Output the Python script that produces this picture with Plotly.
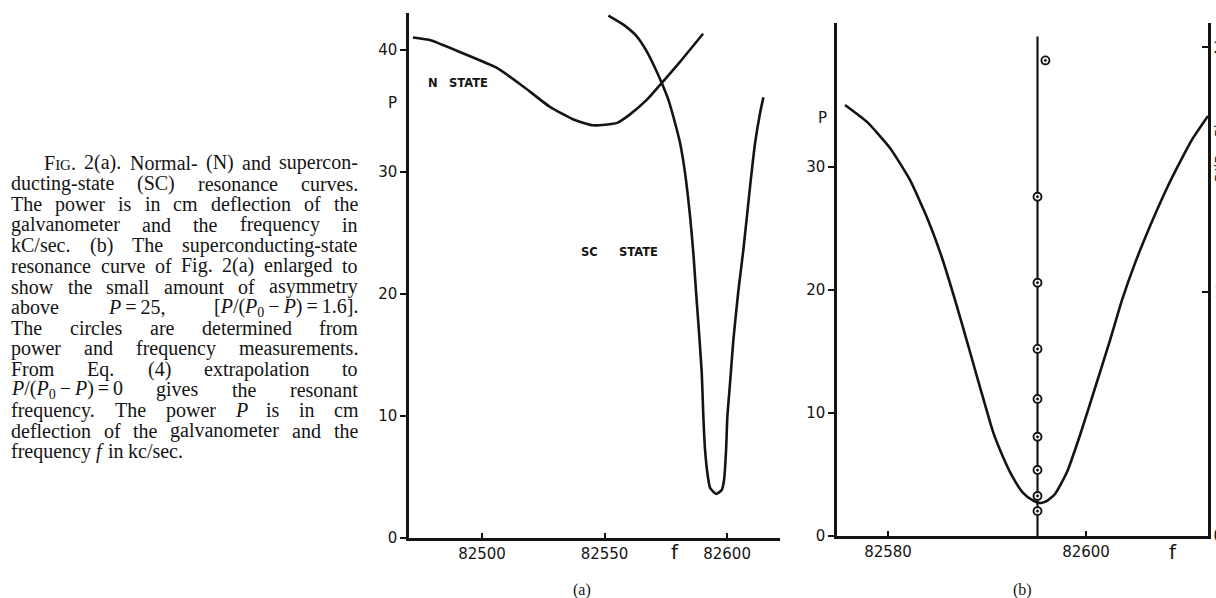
import re
import plotly.graph_objects as go

W, H = 1216, 598

# ---------------- data ----------------
# Panel (a): normal-state resonance curve
n_state_f = [82471.8, 82478.4, 82491.0, 82506.1, 82516.7, 82527.8, 82537.1,
             82545.3, 82555.1, 82560.4, 82567.3, 82573.5, 82580.8, 82590.2]
n_state_p = [41.0, 40.8, 39.8, 38.5, 37.0, 35.3, 34.3,
             33.8, 34.0, 34.7, 35.9, 37.3, 39.0, 41.3]

# Panel (a): superconducting-state resonance curve
sc_a_f = [82551.55, 82557.67, 82563.14, 82567.22, 82570.61, 82573.34, 82576.04,
          82578.77, 82580.82, 82582.86, 82584.90, 82586.24, 82587.34, 82588.28,
          82589.67, 82590.32, 82591.02, 82591.96, 82593.06, 82595.51, 82597.83,
          82598.77, 82599.59, 82600.12, 82601.22, 82602.57, 82604.61, 82606.65,
          82609.39, 82611.43, 82613.47, 82614.82]
sc_a_p = [42.79, 42.05, 41.09, 39.86, 38.50, 37.27, 35.90,
          33.99, 32.35, 29.89, 26.34, 23.34, 20.16, 17.60,
          13.52, 9.93, 7.21, 5.33, 4.10, 3.61, 3.93,
          4.75, 7.21, 9.93, 12.70, 16.23, 20.25, 23.61,
          28.80, 32.35, 34.81, 36.09]

# Panel (b): enlarged superconducting-state resonance curve
sc_b_f = [82575.66, 82577.88, 82580.20, 82582.22, 82584.04, 82585.46, 82586.77,
          82588.08, 82589.29, 82590.61, 82591.62, 82592.53, 82593.64, 82594.55,
          82595.36, 82596.06, 82596.87, 82598.08, 82599.40, 82600.91, 82602.43,
          82603.64, 82604.96, 82606.47, 82608.18, 82609.50, 82610.81, 82612.32]
sc_b_p = [35.04, 33.66, 31.54, 28.94, 25.69, 22.60, 19.19,
          15.53, 12.11, 8.46, 6.42, 4.88, 3.50, 2.93,
          2.68, 2.85, 3.41, 5.20, 8.21, 12.03, 15.93,
          19.19, 22.20, 25.20, 28.29, 30.41, 32.36, 34.15]

# Panel (b): extrapolated resonant frequency line and P/(P0-P) circles
resonance_f = [82595.1, 82595.1]
resonance_p = [0.0, 40.6]
circle_f = [82595.9, 82595.1, 82595.1, 82595.1, 82595.1,
            82595.1, 82595.1, 82595.1, 82595.1]
circle_ratio = [1.947, 1.389, 1.037, 0.766, 0.561, 0.406, 0.270, 0.164, 0.102]

# Tick values
a_xticks = [82500, 82550, 82600]
a_yticks = [0, 10, 20, 30, 40]
b_xticks = [82580, 82600]
b_yticks = [0, 10, 20, 30]
b_ratio_ticks = [0, 1, 2]
b_ratio_text = ["0", "<span style='color:#cfcfcf'>1</span>", "2"]

T = "\u2009"  # thin space used inside formulas
caption_lines = [
    "F<span style='font-size:15px'>IG</span>. 2(a). Normal- (N) and supercon-",
    "ducting-state (SC) resonance curves.",
    "The power is in cm deflection of the",
    "galvanometer and the frequency in",
    "kC/sec. (b) The superconducting-state",
    "resonance curve of Fig. 2(a) enlarged to",
    "show the small amount of asymmetry",
    f"above <i>P</i>{T}={T}25, [<i>P</i>/(<i>P</i><sub>0</sub>{T}−{T}<i>P</i>){T}={T}1.6].",
    "The circles are determined from",
    "power and frequency measurements.",
    "From Eq. (4) extrapolation to",
    f"<i>P</i>/(<i>P</i><sub>0</sub>{T}−{T}<i>P</i>){T}={T}0 gives the resonant",
    "frequency. The power <i>P</i> is in cm",
    "deflection of the galvanometer and the",
    "frequency <i>f</i> in kc/sec.",
]

# ---------------- styling ----------------
INK = "#141414"
SANS = "DejaVu Sans"
SERIF = "Liberation Serif"

def px(x):
    return x / W

def py(y):
    return 1 - y / H

fig = go.Figure()

line_style = dict(color=INK, width=2.6, shape="spline", smoothing=0.5)

fig.add_trace(go.Scatter(x=n_state_f, y=n_state_p, mode="lines", line=line_style,
                         xaxis="x", yaxis="y", hoverinfo="skip"))
fig.add_trace(go.Scatter(x=sc_a_f, y=sc_a_p, mode="lines", line=line_style,
                         xaxis="x", yaxis="y", hoverinfo="skip"))
fig.add_trace(go.Scatter(x=sc_b_f, y=sc_b_p, mode="lines", line=line_style,
                         xaxis="x2", yaxis="y2", hoverinfo="skip"))
fig.add_trace(go.Scatter(x=resonance_f, y=resonance_p, mode="lines",
                         line=dict(color=INK, width=2.2),
                         xaxis="x2", yaxis="y2", hoverinfo="skip"))
fig.add_trace(go.Scatter(x=circle_f, y=circle_ratio, mode="markers",
                         marker=dict(symbol="circle", size=8, color="white",
                                     line=dict(width=0)),
                         xaxis="x2", yaxis="y3", hoverinfo="skip"))
fig.add_trace(go.Scatter(x=circle_f, y=circle_ratio, mode="markers",
                         marker=dict(symbol="circle-open-dot", size=8, color=INK,
                                     line=dict(width=1.9, color=INK)),
                         xaxis="x2", yaxis="y3", hoverinfo="skip"))

axis_common = dict(showline=True, linecolor=INK, linewidth=2.6, showgrid=False,
                   zeroline=False, tickcolor=INK, tickwidth=2,
                   tickfont=dict(family=SANS, size=15, color=INK),
                   automargin=False, fixedrange=True)

fig.update_layout(
    template="none",
    width=W, height=H,
    margin=dict(l=0, r=0, t=0, b=0),
    paper_bgcolor="white", plot_bgcolor="rgba(0,0,0,0)",
    showlegend=False,
    font=dict(family=SANS, color=INK),
    xaxis=dict(axis_common, domain=[px(409), px(780)], range=[82470.2, 82621.6],
               anchor="y", ticks="inside", ticklen=5, tickvals=a_xticks,
               ticktext=[str(v) for v in a_xticks]),
    yaxis=dict(axis_common, domain=[py(538), py(13)], range=[0, 43.0],
               anchor="x", ticks="outside", ticklen=6, tickvals=a_yticks,
               ticktext=[str(v) for v in a_yticks]),
    xaxis2=dict(axis_common, domain=[px(837), px(1208)], range=[82574.85, 82612.32],
                anchor="y2", ticks="inside", ticklen=5, tickvals=b_xticks,
                ticktext=[str(v) for v in b_xticks]),
    yaxis2=dict(axis_common, domain=[py(536), py(23)], range=[0, 41.7],
                anchor="x2", ticks="outside", ticklen=6, tickvals=b_yticks,
                ticktext=[str(v) for v in b_yticks]),
    yaxis3=dict(axis_common, overlaying="y2", side="right", anchor="x2",
                range=[0, 2.1], ticks="inside", ticklen=6,
                tickvals=b_ratio_ticks, ticktext=b_ratio_text),
)

ann = []

def label(text, x, y, size, family=SANS, bold=False, angle=0, xanchor="center"):
    t = f"<b>{text}</b>" if bold else text
    ann.append(dict(text=t, x=px(x), y=py(y), xref="paper", yref="paper",
                    showarrow=False, xanchor=xanchor, yanchor="middle",
                    textangle=angle, borderpad=0,
                    font=dict(family=family, size=size, color=INK)))

# chart labels
label("N", 433, 83, 11.5, bold=True)
label("STATE", 468, 83, 11.5, bold=True)
label("SC", 589, 252, 11.5, bold=True)
label("STATE", 638, 252, 11.5, bold=True)
label("P", 392, 103, 15)
label("P", 822, 118, 15)
label("f", 675, 552, 20)
label("f", 1173, 552, 20)
label("(a)", 582, 590, 16, family=SERIF)
label("(b)", 1022, 590, 16, family=SERIF)
label("P/(P<sub>0</sub>−P)", 1221, 152, 14, angle=-90)

# ---------------- justified caption ----------------
TIMES = {' ': 250, 'a': 444, 'b': 500, 'c': 444, 'd': 500, 'e': 444, 'f': 333,
         'g': 500, 'h': 500, 'i': 278, 'j': 278, 'k': 500, 'l': 278, 'm': 778,
         'n': 500, 'o': 500, 'p': 500, 'q': 500, 'r': 333, 's': 389, 't': 278,
         'u': 500, 'v': 500, 'w': 722, 'x': 500, 'y': 500, 'z': 444,
         'A': 722, 'B': 667, 'C': 667, 'D': 722, 'E': 611, 'F': 556, 'G': 722,
         'H': 722, 'I': 333, 'J': 389, 'K': 722, 'L': 611, 'M': 889, 'N': 722,
         'O': 722, 'P': 611, 'Q': 722, 'R': 667, 'S': 556, 'T': 611, 'U': 722,
         'V': 722, 'W': 944, 'X': 722, 'Y': 722, 'Z': 611, '.': 250, ',': 250,
         '-': 333, '(': 333, ')': 333, '/': 278, '=': 564, '[': 333, ']': 333,
         '−': 564, ':': 278, '\u2009': 200}

CAP_SIZE = 20

def word_width(html):
    w = 0.0
    scale = 1.0
    for tok in re.split(r'(<[^>]+>)', html):
        if tok.startswith('<'):
            if tok.startswith('<sub'):
                scale = 0.7
            elif tok.startswith('</sub'):
                scale = 1.0
            elif tok.startswith('<span'):
                scale = 0.75
            elif tok.startswith('</span'):
                scale = 1.0
            continue
        for ch in tok:
            w += TIMES.get(ch, 500) * scale
    return w / 1000 * CAP_SIZE

CAP_LEFT, CAP_RIGHT, CAP_INDENT = 10, 357, 43
CAP_TOP, CAP_PITCH = 163, 20.6

for i, line in enumerate(caption_lines):
    words = re.split(r' (?![^<]*>)', line)
    widths = [word_width(w) for w in words]
    left = CAP_INDENT if i == 0 else CAP_LEFT
    if i == len(caption_lines) - 1 or len(words) == 1:
        gap = TIMES[' '] / 1000 * CAP_SIZE
    else:
        gap = (CAP_RIGHT - left - sum(widths)) / (len(words) - 1)
    x = left
    yc = CAP_TOP + i * CAP_PITCH
    for w, wd in zip(words, widths):
        ann.append(dict(text=w, x=px(x), y=py(yc), xref="paper", yref="paper",
                        showarrow=False, xanchor="left", yanchor="middle",
                        borderpad=0,
                        font=dict(family=SERIF, size=CAP_SIZE, color=INK)))
        x += wd + gap

fig.update_layout(annotations=ann)

fig.write_html("out.html",
               config={"displayModeBar": False, "staticPlot": True},
               post_script="document.body.style.margin='0px';"
                           "document.body.style.overflow='hidden';")
